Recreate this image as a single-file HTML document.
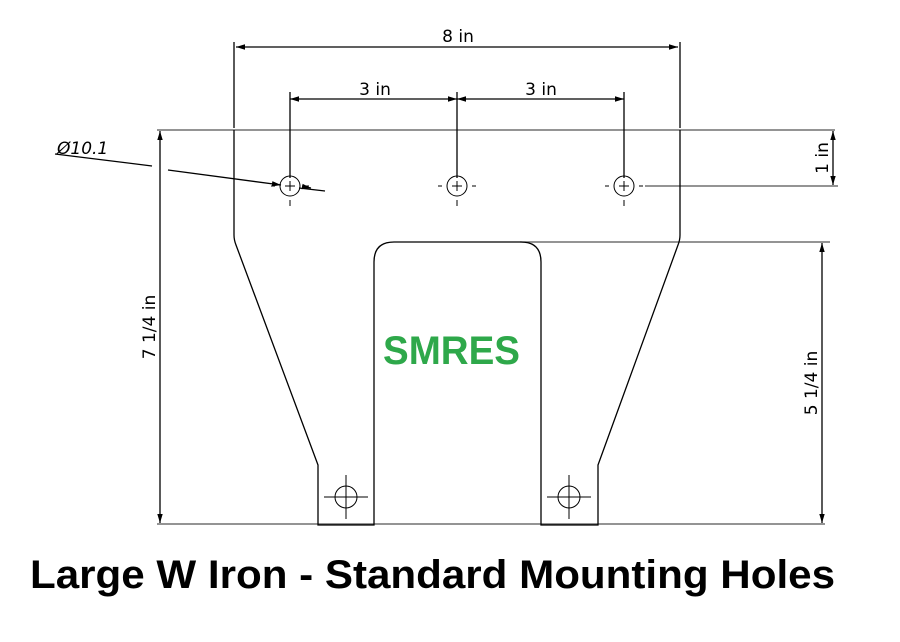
<!DOCTYPE html>
<html><head><style>body{margin:0;background:#fff;width:900px;height:637px;overflow:hidden}</style></head>
<body>
<svg width="900" height="637" xmlns="http://www.w3.org/2000/svg" font-family="'DejaVu Sans','Liberation Sans',sans-serif">
<defs><marker id="a" viewBox="0 0 10 10" refX="10" refY="5" markerWidth="7" markerHeight="7" orient="auto-start-reverse"><path d="M0,2 L10,5 L0,8z" fill="#000"/></marker></defs>
<g stroke="#555" stroke-width="1.3" fill="none">
<line x1="157" y1="130" x2="835" y2="130"/>
<line x1="157" y1="524" x2="825" y2="524"/>
<line x1="520" y1="242" x2="830" y2="242"/>
<line x1="645" y1="186" x2="838" y2="186"/>
</g>
<g stroke="#000" stroke-width="1.3" fill="none">
<path d="M234,130 L234,235 Q234,240 236,245 L318,465 L318,525 L374,525 L374,262 Q374,242 394,242 L521,242 Q541,242 541,262 L541,525 L598,525 L598,465 L678,245 Q680,240 680,235 L680,130"/>
<line x1="234" y1="42" x2="234" y2="128"/><line x1="680" y1="42" x2="680" y2="128"/>
<line x1="236" y1="47" x2="678" y2="47" marker-start="url(#a)" marker-end="url(#a)"/>
<line x1="290" y1="92" x2="290" y2="178"/><line x1="457" y1="92" x2="457" y2="178"/><line x1="624" y1="92" x2="624" y2="178"/>
<line x1="290" y1="99" x2="457" y2="99" marker-start="url(#a)" marker-end="url(#a)"/>
<line x1="457" y1="99" x2="624" y2="99" marker-start="url(#a)" marker-end="url(#a)"/>
<line x1="160" y1="131" x2="160" y2="523" marker-start="url(#a)" marker-end="url(#a)"/>
<line x1="833" y1="131" x2="833" y2="185" marker-start="url(#a)" marker-end="url(#a)"/>
<line x1="822" y1="243" x2="822" y2="523" marker-start="url(#a)" marker-end="url(#a)"/>
<line x1="55" y1="154" x2="152" y2="166"/>
<line x1="168" y1="170" x2="281" y2="185" marker-end="url(#a)"/>
<line x1="299" y1="188" x2="325" y2="191"/>
<line x1="305" y1="187" x2="311" y2="188" marker-end="url(#a)"/>
<g stroke-width="1">
<circle cx="290" cy="186" r="10"/><circle cx="457" cy="186" r="10"/><circle cx="624" cy="186" r="10"/>
<circle cx="346" cy="497" r="11"/><circle cx="569" cy="497" r="11"/>
<path d="M285,186h10M290,181v10M452,186h10M457,181v10M619,186h10M624,181v10"/>
<path d="M275,186h-4M305,186h4M442,186h-4M472,186h4M609,186h-4M639,186h4M290,200v6M457,200v6M624,200v6"/>
<path d="M324,497h44M346,475v44M547,497h44M569,475v44"/>
</g>
</g>
<g font-size="17" fill="#000">
<text x="458" y="42" text-anchor="middle">8 in</text>
<text x="375" y="95" text-anchor="middle">3 in</text>
<text x="541" y="95" text-anchor="middle">3 in</text>
<text x="57" y="154" font-style="italic">Ø10.1</text>
<text transform="translate(155,327) rotate(-90)" text-anchor="middle">7 1/4 in</text>
<text transform="translate(828,158) rotate(-90)" text-anchor="middle">1 in</text>
<text transform="translate(817,383) rotate(-90)" text-anchor="middle">5 1/4 in</text>
</g>
<text x="383" y="364" textLength="137" lengthAdjust="spacingAndGlyphs" font-family="'Liberation Sans',sans-serif" font-weight="bold" font-size="40" fill="#2ea84a">SMRES</text>
<text x="30" y="588" textLength="805" lengthAdjust="spacingAndGlyphs" font-family="'Liberation Sans',sans-serif" font-weight="bold" font-size="40" fill="#000">Large W Iron - Standard Mounting Holes</text>
</svg>
</body></html>
